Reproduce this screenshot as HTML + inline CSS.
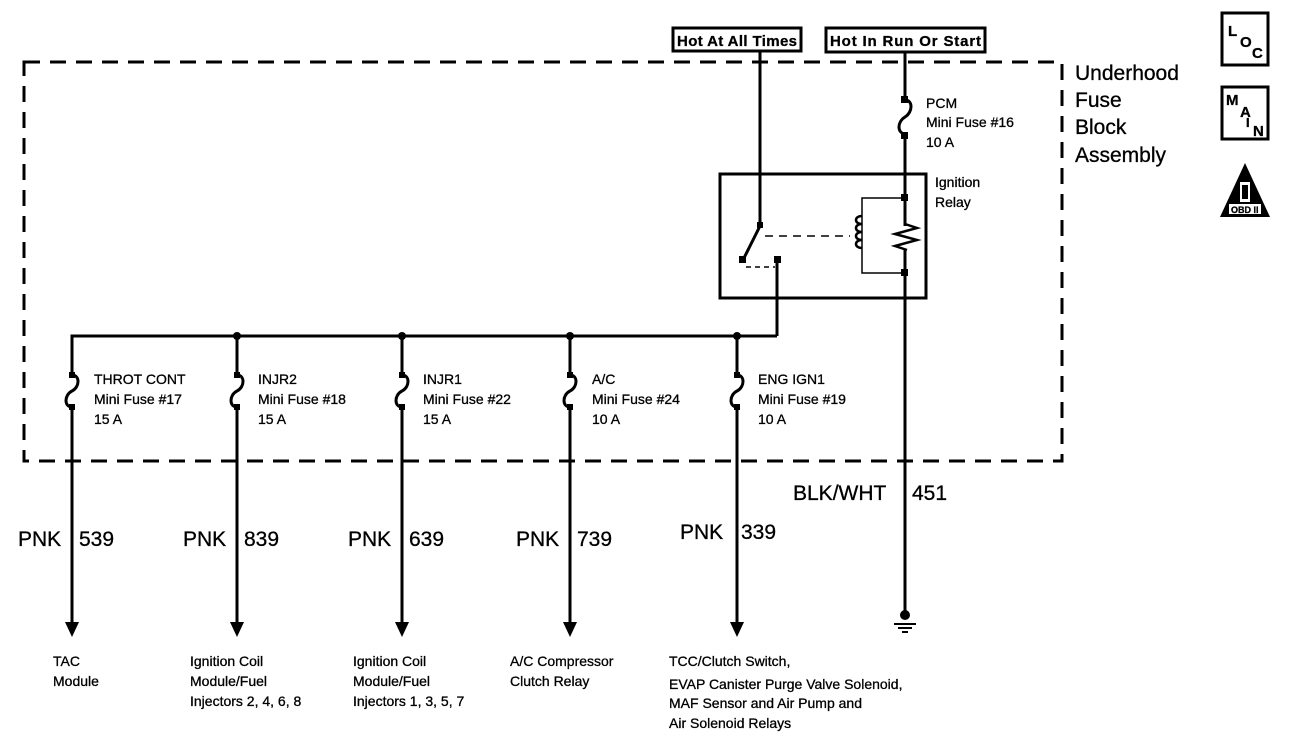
<!DOCTYPE html>
<html><head><style>
html,body{margin:0;padding:0;background:#fff;}
svg{display:block;}
text{font-family:"Liberation Sans",Arial,sans-serif;fill:#000;stroke:#000;stroke-width:0.3;}
</style></head><body>
<svg width="1312" height="750" viewBox="0 0 1312 750" xmlns="http://www.w3.org/2000/svg">
<rect x="24" y="62" width="1038" height="399" fill="none" stroke="#000" stroke-width="3" stroke-dasharray="16,10"/>
<rect x="673" y="28" width="128" height="23" fill="#fff" stroke="#000" stroke-width="3"/>
<text x="677" y="46" font-size="15" font-weight="bold" textLength="120">Hot At All Times</text>
<rect x="826" y="28" width="159" height="24" fill="#fff" stroke="#000" stroke-width="3"/>
<text x="830" y="46" font-size="15" font-weight="bold" textLength="151">Hot In Run Or Start</text>
<text x="1075" y="80" font-size="21">Underhood</text>
<text x="1075" y="107" font-size="21">Fuse</text>
<text x="1075" y="134" font-size="21">Block</text>
<text x="1075" y="162" font-size="21">Assembly</text>
<rect x="1222" y="13" width="46" height="52" fill="none" stroke="#000" stroke-width="3"/>
<text x="1228" y="36" font-size="15" font-weight="bold">L</text>
<text x="1240" y="47" font-size="15" font-weight="bold">O</text>
<text x="1252" y="58" font-size="15" font-weight="bold">C</text>
<rect x="1222" y="87" width="46" height="52" fill="none" stroke="#000" stroke-width="3"/>
<text x="1226" y="105" font-size="15" font-weight="bold">M</text>
<text x="1240" y="117" font-size="15" font-weight="bold">A</text>
<text x="1246" y="127" font-size="13" font-weight="bold">I</text>
<text x="1253" y="136" font-size="15" font-weight="bold">N</text>
<polygon points="1245,163 1220,217 1270,217" fill="#000"/>
<rect x="1240" y="182" width="10" height="20" fill="#fff"/>
<rect x="1242" y="185" width="6" height="14" fill="#000"/>
<rect x="1229" y="204" width="32" height="10" fill="#fff"/>
<text x="1231" y="213" font-size="9" font-weight="bold">OBD II</text>
<g stroke="#000" stroke-width="3" fill="none">
<line x1="760" y1="52" x2="760" y2="226"/>
<line x1="760" y1="226" x2="743" y2="260"/>
<line x1="777" y1="259" x2="777" y2="336"/>
<line x1="905" y1="52" x2="905" y2="100"/>
<path d="M905,100 c8,0 8,12 0,17 c-8,5 -8,16 0,17"/>
<line x1="905" y1="134" x2="905" y2="226"/>
<line x1="905" y1="250" x2="905" y2="612"/>
<path d="M905,224 l12,4 l-22,6 l22,6 l-22,6 l12,4" stroke-width="2.5"/>
<rect x="720" y="174" width="206" height="124"/>
<polyline points="72,362 72,336 777,336"/>
</g>
<g stroke="#000" fill="none" stroke-width="1.5">
<polyline points="905,198 862,198 862,273 905,273"/>
<line x1="765" y1="236" x2="850" y2="236" stroke-dasharray="8,6"/>
<line x1="746" y1="267" x2="775" y2="267" stroke-dasharray="5,4"/>
</g>
<path d="M862,216 c-8,0 -8,8 0,8 c-8,0 -8,8 0,8 c-8,0 -8,8 0,8 c-8,0 -8,8 0,8" stroke="#000" stroke-width="2.5" fill="none"/>
<g fill="#000">
<rect x="901" y="96" width="7" height="7"/><rect x="901" y="132" width="7" height="7"/>
<rect x="901" y="194" width="7" height="7"/><rect x="901" y="269" width="7" height="7"/>
<rect x="739" y="256" width="7" height="7"/><rect x="774" y="256" width="7" height="7"/>
<rect x="757" y="222" width="6" height="6"/>
<circle cx="237" cy="336" r="4"/><circle cx="402" cy="336" r="4"/><circle cx="570" cy="336" r="4"/><circle cx="737" cy="336" r="4"/>
<circle cx="905" cy="615" r="5"/>
</g>
<g stroke="#000" stroke-width="2">
<line x1="894" y1="624" x2="916" y2="624"/><line x1="898" y1="628" x2="912" y2="628"/><line x1="902" y1="632" x2="908" y2="632"/>
</g>
<text x="926" y="108" font-size="14">PCM</text>
<text x="926" y="127" font-size="14">Mini Fuse #16</text>
<text x="926" y="147" font-size="14">10 A</text>
<text x="935" y="187" font-size="14">Ignition</text>
<text x="935" y="207" font-size="14">Relay</text>
<g stroke="#000" stroke-width="3" fill="none">
<path d="M72,336 V375 c8,0 8,12 0,16 c-8,4 -8,16 0,16 V624"/>
<path d="M237,336 V375 c8,0 8,12 0,16 c-8,4 -8,16 0,16 V624"/>
<path d="M402,336 V375 c8,0 8,12 0,16 c-8,4 -8,16 0,16 V624"/>
<path d="M570,336 V375 c8,0 8,12 0,16 c-8,4 -8,16 0,16 V624"/>
<path d="M737,336 V375 c8,0 8,12 0,16 c-8,4 -8,16 0,16 V624"/>
</g>
<g fill="#000">
<polygon points="65,622 79,622 72,637"/><polygon points="230,622 244,622 237,637"/><polygon points="395,622 409,622 402,637"/><polygon points="563,622 577,622 570,637"/><polygon points="730,622 744,622 737,637"/>
<rect x="69" y="372" width="6" height="6"/><rect x="69" y="404" width="6" height="6"/>
<rect x="234" y="372" width="6" height="6"/><rect x="234" y="404" width="6" height="6"/>
<rect x="399" y="372" width="6" height="6"/><rect x="399" y="404" width="6" height="6"/>
<rect x="567" y="372" width="6" height="6"/><rect x="567" y="404" width="6" height="6"/>
<rect x="734" y="372" width="6" height="6"/><rect x="734" y="404" width="6" height="6"/>
</g>
<g font-size="14">
<text x="94" y="384">THROT CONT</text><text x="94" y="404">Mini Fuse #17</text><text x="94" y="424">15 A</text>
<text x="258" y="384">INJR2</text><text x="258" y="404">Mini Fuse #18</text><text x="258" y="424">15 A</text>
<text x="423" y="384">INJR1</text><text x="423" y="404">Mini Fuse #22</text><text x="423" y="424">15 A</text>
<text x="592" y="384">A/C</text><text x="592" y="404">Mini Fuse #24</text><text x="592" y="424">10 A</text>
<text x="758" y="384">ENG IGN1</text><text x="758" y="404">Mini Fuse #19</text><text x="758" y="424">10 A</text>
</g>
<g font-size="21">
<text x="18" y="546">PNK</text><text x="79" y="546">539</text>
<text x="183" y="546">PNK</text><text x="244" y="546">839</text>
<text x="348" y="546">PNK</text><text x="409" y="546">639</text>
<text x="516" y="546">PNK</text><text x="577" y="546">739</text>
<text x="680" y="539">PNK</text><text x="741" y="539">339</text>
<text x="793" y="500">BLK/WHT</text><text x="912" y="500">451</text>
</g>
<g font-size="14">
<text x="53" y="666">TAC</text><text x="53" y="686">Module</text>
<text x="190" y="666">Ignition Coil</text><text x="190" y="686">Module/Fuel</text><text x="190" y="706">Injectors 2, 4, 6, 8</text>
<text x="353" y="666">Ignition Coil</text><text x="353" y="686">Module/Fuel</text><text x="353" y="706">Injectors 1, 3, 5, 7</text>
<text x="510" y="666">A/C Compressor</text><text x="510" y="686">Clutch Relay</text>
<text x="669" y="666">TCC/Clutch Switch,</text><text x="669" y="689">EVAP Canister Purge Valve Solenoid,</text><text x="669" y="708">MAF Sensor and Air Pump and</text><text x="669" y="728">Air Solenoid Relays</text>
</g>
</svg>
</body></html>
